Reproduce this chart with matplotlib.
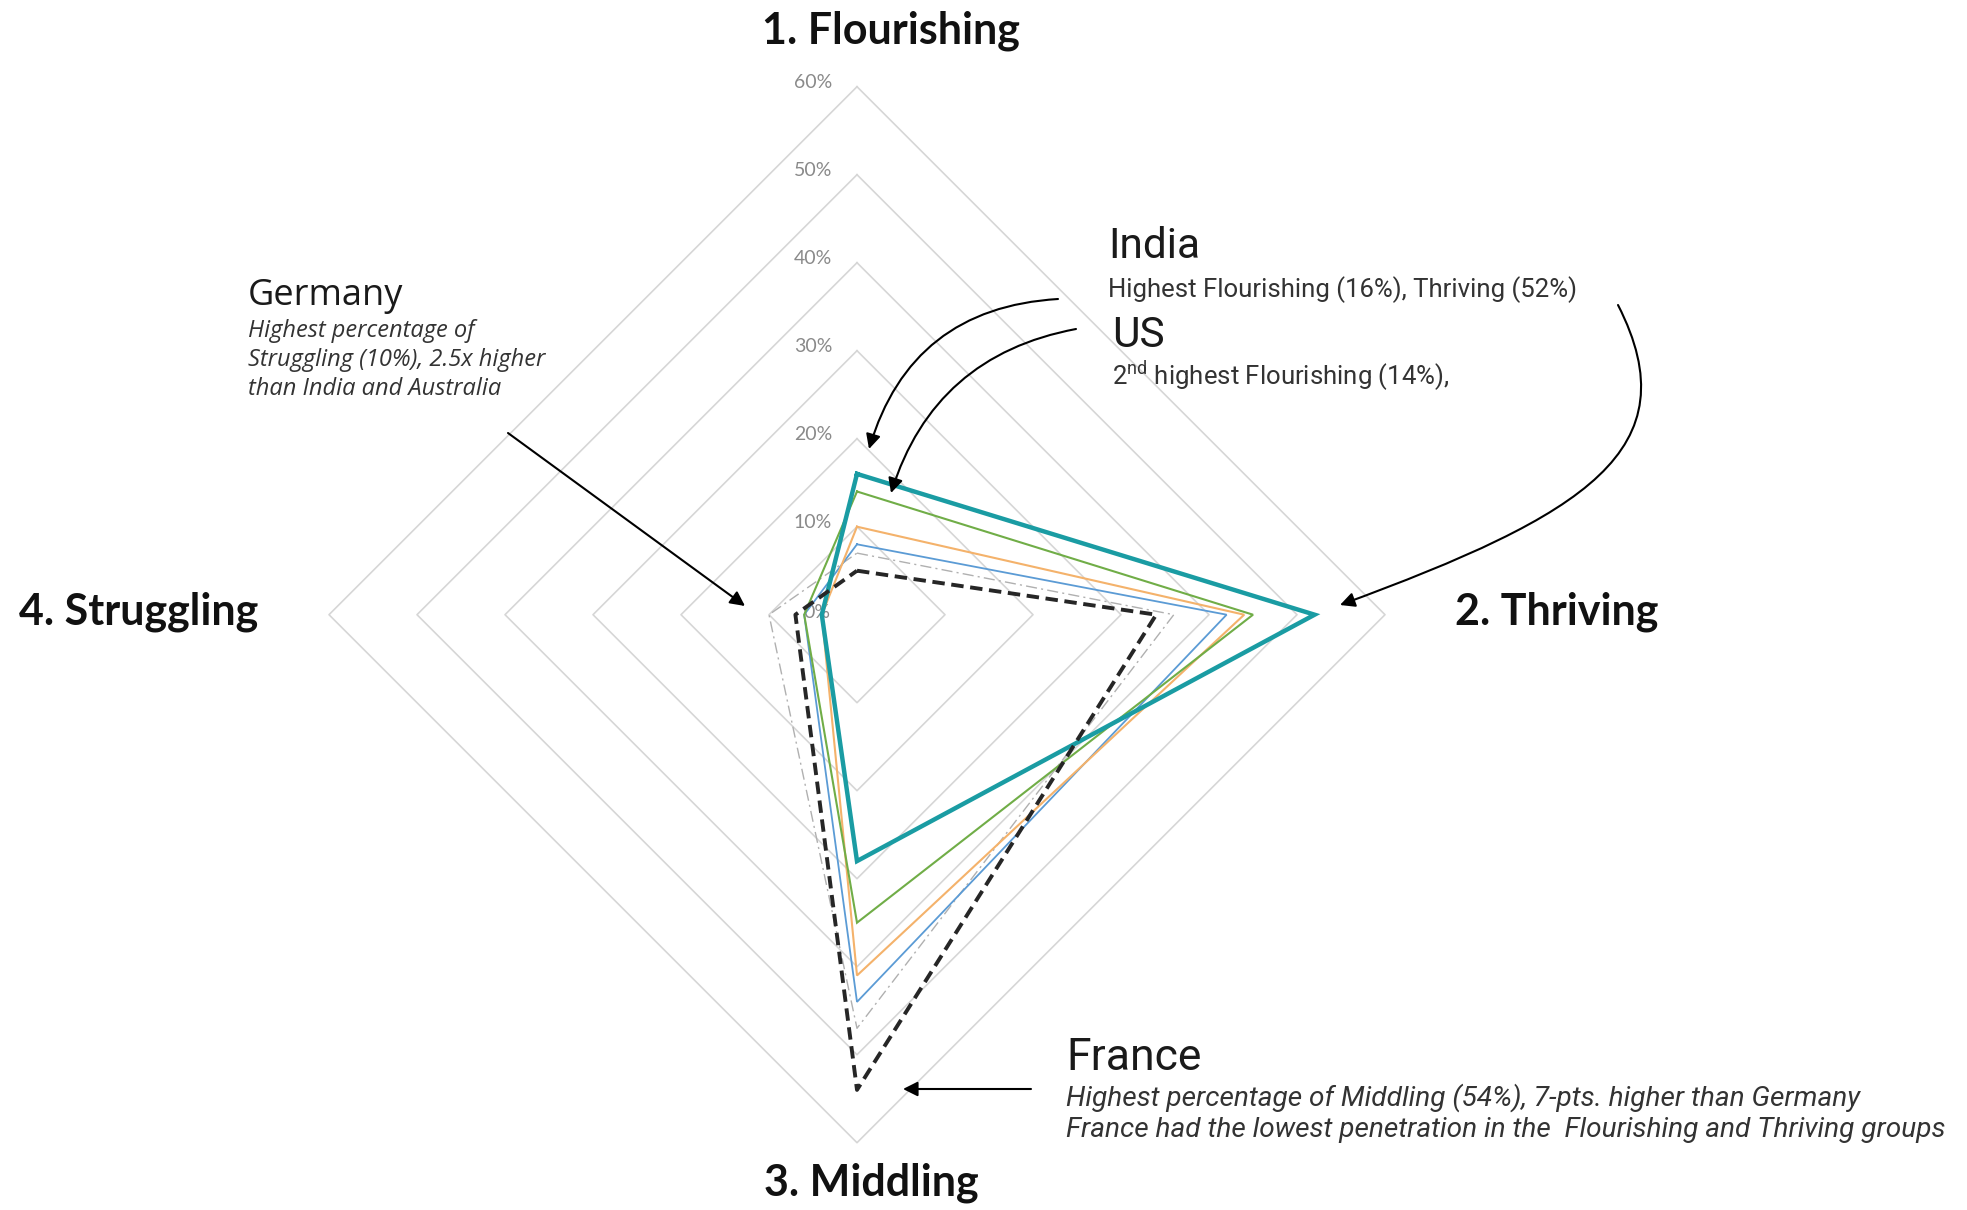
import matplotlib.pyplot as plt
import matplotlib.patches as mpatches
from matplotlib.path import Path
import numpy as np

plt.rcParams['mathtext.fontset'] = 'custom'
plt.rcParams['mathtext.rm'] = 'Roboto'

# data (percent of respondents per group)
categorias = ["1. Flourishing", "2. Thriving", "3. Middling", "4. Struggling"]
niveis = [10, 20, 30, 40, 50, 60]
india = [16, 52, 28, 4]
us = [14, 45, 35, 6]
australia = [10, 44, 41, 4]
uk = [8, 42, 44, 6]
germany = [7, 36, 47, 10]
france = [5, 34, 54, 7]

# figure geometry: 1 data unit = 8.8 px, centre of radar at (857, 614.7) px
W, H = 1967, 1210
CX, CY, ESC = 857, 614.7, 8.8

def px(x, y):
    return ((x - CX) / ESC, (CY - y) / ESC)

ang = np.array([90, 0, -90, 180]) * np.pi / 180

def xy(vals):
    v = np.array(list(vals) + [vals[0]], dtype=float)
    a = np.append(ang, ang[0])
    return v * np.cos(a), v * np.sin(a)

fig = plt.figure(figsize=(W / 100, H / 100), dpi=100)
ax = fig.add_axes([0, 0, 1, 1])
ax.set_xlim(-CX / ESC, (W - CX) / ESC)
ax.set_ylim(-(H - CY) / ESC, CY / ESC)
ax.axis("off")

# grid diamonds
for n in niveis:
    gx, gy = xy([n] * 4)
    ax.plot(gx, gy, color="#d6d6d6", lw=1.2, zorder=1)
    ax.text(-5, n + 0.5, f"{n}%", ha="center", va="center",
            fontsize=14, color="#8a8a8a", family="Lato", zorder=2)
ax.text(-4.6, 0.2, "0%", ha="center", va="center",
        fontsize=14, color="#8a8a8a", family="Lato", zorder=2)

# series
series = [
    (germany,   dict(color="#b0b0b0", lw=1.0, ls=(0, (8, 3, 1.5, 3)))),
    (uk,        dict(color="#5b9bd5", lw=1.3)),
    (australia, dict(color="#f4b26b", lw=1.5)),
    (us,        dict(color="#70ad47", lw=1.5)),
    (india,     dict(color="#1a9ca3", lw=3.2)),
    (france,    dict(color="#262626", lw=2.8, ls=(0, (3.2, 1.7)))),
]
for i, (vals, st) in enumerate(series):
    sx, sy = xy(vals)
    ax.plot(sx, sy, zorder=3 + i, solid_joinstyle="miter", **st)

# category labels
cat_pos = [(891, 31), (1557, 612), (871, 1183), (139, 612)]
for lab, (x, y) in zip(categorias, cat_pos):
    ax.text(*px(x, y), lab, ha="center", va="center", fontsize=31,
            fontweight="bold", family="Lato", color="#111111")

# annotations
ax.text(*px(1108, 258), "India", fontsize=30.5, family="Roboto", color="#1a1a1a", va="baseline")
ax.text(*px(1108, 297), "Highest Flourishing (16%), Thriving (52%)", fontsize=18.5,
        family="Roboto", color="#333333", va="baseline")
ax.text(*px(1112, 347), "US", fontsize=30.5, family="Roboto", color="#1a1a1a", va="baseline")
ax.text(*px(1112, 385), r"2$^{\mathrm{nd}}$ highest Flourishing (14%),", fontsize=18.5,
        family="Roboto", color="#333333", va="baseline")

ax.text(*px(248, 305), "Germany", fontsize=26, family="Open Sans", color="#1a1a1a", va="baseline")
for txt, b in zip(["Highest percentage of", "Struggling (10%), 2.5x higher",
                   "than India and Australia"], [337, 366, 395]):
    ax.text(*px(248, b), txt, fontsize=17, family="Open Sans", style="italic",
            color="#333333", va="baseline")

ax.text(*px(1066, 1070), "France", fontsize=32, family="Roboto", color="#1a1a1a", va="baseline")
for txt, b in zip(["Highest percentage of Middling (54%), 7-pts. higher than Germany",
                   "France had the lowest penetration in the  Flourishing and Thriving groups"],
                  [1106, 1137]):
    ax.text(*px(1066, b), txt, fontsize=20.2, family="Roboto", style="italic",
            color="#333333", va="baseline")

# arrows
flecha = dict(arrowstyle="-|>", color="black", lw=1.5, mutation_scale=22,
              shrinkA=0, shrinkB=0)
setas = [
    ((1058, 299), (869, 449), "arc3,rad=0.35"),
    ((1076, 329), (891, 493), "arc3,rad=0.3"),
    ((508, 433), (745, 606), "arc3,rad=0"),
    ((1031, 1089), (903, 1089), "arc3,rad=0"),
]
for a, b, con in setas:
    ax.annotate("", xy=px(*b), xytext=px(*a),
                arrowprops=dict(connectionstyle=con, **flecha), zorder=20)

# long curved arrow India -> Thriving
curva = Path([px(1618, 305), px(1692, 450), px(1585, 515), px(1340, 605)],
             [Path.MOVETO, Path.CURVE4, Path.CURVE4, Path.CURVE4])
ax.add_patch(mpatches.FancyArrowPatch(path=curva, arrowstyle="-|>", color="black",
                                      lw=1.5, mutation_scale=22, zorder=20))

fig.savefig("out.png", dpi=100, facecolor="white")
